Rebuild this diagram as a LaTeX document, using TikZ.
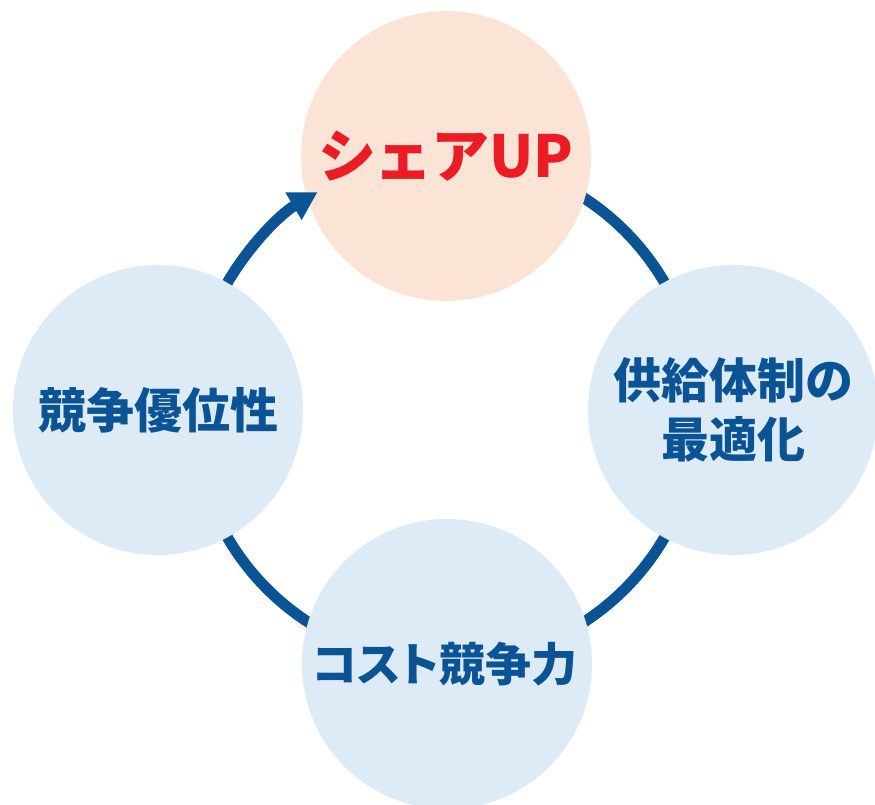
\documentclass[tikz,border=0pt]{standalone}
\usepackage{fontspec}
\newfontfamily\jp{Noto Sans CJK JP}
\newfontfamily\jpp{Noto Sans CJK JP}[RawFeature=+palt]
\usetikzlibrary{arrows.meta}
\definecolor{ringblue}{HTML}{0A5394}
\definecolor{circblue}{HTML}{DDEBF7}
\definecolor{circpeach}{HTML}{FBE4D6}
\definecolor{upred}{HTML}{EC1C24}
\begin{document}
\begin{tikzpicture}[x=1pt,y=1pt,
  bubble/.style={circle, minimum size=290pt, inner sep=0pt, fill=circblue, text=ringblue,
    font=\jp\bfseries\fontsize{48}{59}\selectfont, align=center},
  cyclearc/.style={draw=ringblue, line width=11pt},
  ]
\useasboundingbox (0,0) rectangle (875,805);
\coordinate (C) at (446,395);
% arcs tucked under the circles
\draw[cyclearc] ([shift={(60:253)}]C) arc (60:27:253);
\draw[cyclearc] ([shift={(-27:253)}]C) arc (-27:-60:253);
\draw[cyclearc] ([shift={(-120:253)}]C) arc (-120:-153:253);
% circles
\node[bubble, fill=circpeach, text=upred, font=\jp\bfseries\fontsize{58}{68}\selectfont] (top) at (446,649) {シ\kern-2ptェ\kern-2ptアUP};
\node[bubble] (right) at (733,395) {供給体制の\\最適化};
\node[bubble, font=\jpp\bfseries\fontsize{46}{56}\selectfont] (bottom) at (447,141) {\kern-4ptコスト競争力};
\node[bubble] (left) at (158,395) {競争優位性};
% arrow from left to top
\draw[cyclearc, -{Triangle[width=30pt,length=28pt]}] ([shift={(149.8:253)}]C) arc (149.8:120.5:253);
\end{tikzpicture}
\end{document}
